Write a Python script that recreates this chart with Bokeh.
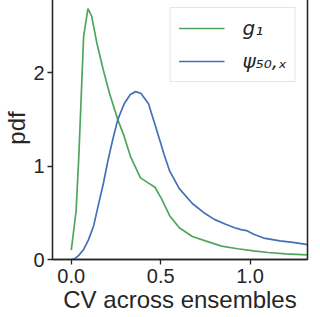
from bokeh.plotting import figure
from bokeh.models import FixedTicker, Range1d, Legend, LegendItem, LinearAxis
from bokeh.embed import file_html
from bokeh.resources import INLINE

# Data
g1_x = [0.0, 0.027, 0.042, 0.069, 0.093, 0.114, 0.142, 0.178, 0.214, 0.26, 0.296, 0.332,
        0.387, 0.423, 0.468, 0.505, 0.55, 0.604, 0.677, 0.75, 0.84, 0.93, 1.02, 1.1, 1.2, 1.32]
g1_y = [0.1, 0.52, 1.10, 2.39, 2.69, 2.61, 2.33, 2.04, 1.78, 1.50, 1.32, 1.10,
        0.875, 0.83, 0.775, 0.65, 0.47, 0.34, 0.247, 0.20, 0.144, 0.115, 0.092, 0.075, 0.06, 0.05]

psi_x = [0.0, 0.02, 0.042, 0.07, 0.096, 0.125, 0.151, 0.18, 0.205, 0.23, 0.26, 0.296, 0.33,
         0.36, 0.39, 0.432, 0.477, 0.52, 0.55, 0.604, 0.677, 0.75, 0.80, 0.86, 0.913, 0.95,
         0.98, 1.02, 1.076, 1.167, 1.25, 1.32]
psi_y = [0.0, 0.01, 0.044, 0.11, 0.21, 0.36, 0.58, 0.82, 1.06, 1.27, 1.50, 1.67, 1.77,
         1.80, 1.78, 1.67, 1.39, 1.12, 0.95, 0.76, 0.60, 0.49, 0.43, 0.38, 0.34, 0.32,
         0.31, 0.27, 0.23, 0.20, 0.18, 0.16]

x_ticks = [0.0, 0.5, 1.0]
x_tick_labels = ["0.0", "0.5", "1.0"]
y_ticks = [0, 1, 2]
y_tick_labels = ["0", "1", "2"]

labels = ["g\u2081", "\u03c8\u2085\u2080,\u2093"]

GREEN = "#4FA55F"
BLUE = "#4470B5"
DARK = "#262626"
FONT = "Liberation Sans"

p = figure(width=312, height=321, output_backend="svg", toolbar_location=None,
           x_range=Range1d(-0.105, 1.321), y_range=Range1d(0, 2.82),
           min_border_left=45, min_border_right=5, min_border_top=1, min_border_bottom=57)
p.styles = {"margin-top": "-5px", "margin-bottom": "-16px"}

p.grid.visible = False
p.background_fill_color = "white"
p.border_fill_color = "white"
p.outline_line_color = DARK
p.outline_line_width = 1.3

r1 = p.line(g1_x, g1_y, line_color=GREEN, line_width=1.7)
r2 = p.line(psi_x, psi_y, line_color=BLUE, line_width=1.7)

xa = p.below[0]
ya = p.left[0]

for ax in (xa, ya):
    ax.axis_line_color = DARK
    ax.axis_line_width = 1.3
    ax.major_tick_line_color = DARK
    ax.major_tick_line_width = 1.3
    ax.major_tick_out = 5
    ax.major_tick_in = 0
    ax.minor_tick_line_color = None
    ax.major_label_text_font = FONT
    ax.major_label_text_font_size = "20px"
    ax.major_label_text_color = DARK
    ax.axis_label_text_font = FONT
    ax.axis_label_text_font_size = "24px"
    ax.axis_label_text_font_style = "normal"
    ax.axis_label_text_color = DARK

xa.ticker = FixedTicker(ticks=x_ticks)
xa.major_label_overrides = {t: l for t, l in zip(x_ticks, x_tick_labels)}
ya.ticker = FixedTicker(ticks=y_ticks)
ya.major_label_overrides = {t: l for t, l in zip(y_ticks, y_tick_labels)}
xa.axis_label = "CV across ensembles"
ya.axis_label = "pdf"
xa.major_label_standoff = 4
ya.major_label_standoff = 3
xa.axis_label_standoff = 0
ya.axis_label_standoff = 0

# top and right frame lines
for side in ("above", "right"):
    ax2 = LinearAxis(ticker=FixedTicker(ticks=[]))
    ax2.axis_line_color = DARK
    ax2.axis_line_width = 1.3
    ax2.major_tick_out = 0
    ax2.major_tick_in = 0
    ax2.minor_tick_out = 0
    ax2.minor_tick_in = 0
    ax2.major_label_standoff = 0
    ax2.major_label_text_font_size = "0px"
    p.add_layout(ax2, side)

legend = Legend(items=[LegendItem(label=labels[0], renderers=[r1]),
                       LegendItem(label=labels[1], renderers=[r2])],
                location="top_right")
legend.margin = 11
legend.padding = 8
legend.spacing = 9
legend.glyph_width = 46
legend.glyph_height = 24
legend.label_standoff = 18
legend.label_text_font = "DejaVu Sans"
legend.label_text_font_style = "italic"
legend.label_text_font_size = "20px"
legend.label_text_color = DARK
legend.border_line_color = "#cccccc"
legend.border_line_width = 1
legend.background_fill_alpha = 0.8
p.add_layout(legend)

open("out.html", "w").write(file_html(p, INLINE))
